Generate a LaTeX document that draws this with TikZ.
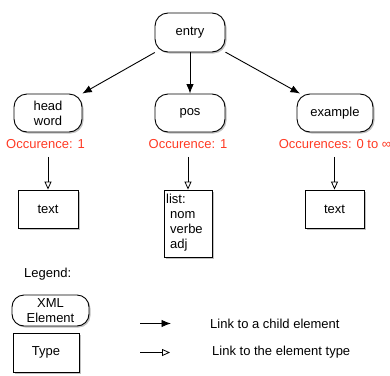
\documentclass[tikz,border=0pt]{standalone}
\usepackage{fontspec}
\setmainfont{Liberation Sans}
\usetikzlibrary{shadows,arrows.meta}
\definecolor{occred}{RGB}{255,58,36}
\tikzset{
  elem/.style={draw=black, line width=0.9pt, fill=white, rounded corners=13pt,
    align=center, inner sep=0pt,
    drop shadow={shadow xshift=1.5pt, shadow yshift=-1.5pt, opacity=0.35, fill=black!70}},
  typebox/.style={draw=black, line width=0.9pt, fill=white, align=center, inner sep=0pt,
    drop shadow={shadow xshift=1.5pt, shadow yshift=-1.5pt, opacity=0.35, fill=black!70}},
  occ/.style={text=occred, inner sep=0pt, anchor=center},
  lbl/.style={inner sep=0pt},
  child/.style={line width=0.9pt, -{Latex[length=9.5pt,width=7.5pt]}},
  typelink/.style={line width=0.9pt, -{Triangle[open,length=8pt,width=7pt,line width=0.8pt]}},
}
\begin{document}
\begin{tikzpicture}[x=1pt,y=-1pt,font=\fontsize{13}{14.8}\selectfont]
\useasboundingbox (0,0) rectangle (390,375);
% elements
\node[elem, minimum width=70pt, minimum height=39pt] (entry) at (190,32.5) {entry};
\node[elem, minimum width=68pt, minimum height=38pt] (head) at (48,113) {head\\word};
\node[elem, minimum width=70pt, minimum height=38pt] (pos) at (190,113) {pos};
\node[elem, minimum width=76pt, minimum height=38pt] (example) at (335,113) {example};
% occurrences
\node[occ] (occ1) at (45.5,144) {Occurence: 1};
\node[occ] (occ2) at (188,144) {Occurence: 1};
\node[occ] (occ3) at (335,144) {Occurences: 0 to ∞};
% types
\node[typebox, minimum width=60pt, minimum height=38pt] (text1) at (48,209) {text};
\node[typebox, minimum width=48pt, minimum height=67pt] (list) at (188,223.5) {};
\node[lbl, anchor=north west, align=left] (listtxt) at (166,194) {list:\\\hspace{4pt}nom\\\hspace{4pt}verbe\\\hspace{4pt}adj};
\node[typebox, minimum width=59pt, minimum height=38pt] (text3) at (334.5,209) {text};
% child links
\draw[child] (entry) -- (head);
\draw[child] (entry) -- (pos);
\draw[child] (entry) -- (example);
% type links
\draw[typelink] ([yshift=-8pt]occ1.south -| text1.north) -- (text1.north);
\draw[typelink] ([yshift=-8pt]occ2.south -| list.north) -- (list.north);
\draw[typelink] ([yshift=-8pt]occ3.south -| text3.north) -- (text3.north);
% legend
\node[lbl, anchor=west] (legend) at (24,274) {Legend:};
\node[elem, minimum width=77pt, minimum height=31pt, rounded corners=12pt] (xmlel) at (50.5,310.5) {XML\\Element};
\node[typebox, minimum width=66pt, minimum height=39pt] (typeleg) at (46,352.5) {Type};
\coordinate (a1s) at (140,323.5);
\coordinate (a1e) at (171,323.5);
\coordinate (a2s) at (140,352.5);
\coordinate (a2e) at (170,352.5);
\draw[child] (a1s) -- (a1e);
\draw[typelink] (a2s) -- (a2e);
\node[lbl, anchor=west] (l1) at (210,323.5) {Link to a child element};
\node[lbl, anchor=west] (l2) at (212,352) {Link to the element type};
\end{tikzpicture}
\end{document}
